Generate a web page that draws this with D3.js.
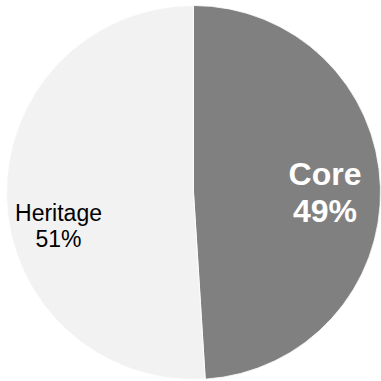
<!DOCTYPE html>
<html>
<head>
<meta charset="utf-8">
<script src="https://cdn.jsdelivr.net/npm/d3@7"></script>
<style>
  html, body { margin: 0; padding: 0; background: #ffffff; }
  svg { display: block; }
</style>
</head>
<body>
<svg id="chart" width="381" height="381"></svg>
<script>
// Share of segments
const categories = ["Core", "Heritage"];
const values = [49, 51];
const colors = ["#808080", "#f2f2f2"];

const svg = d3.select("#chart");
const cx = 193.5, cy = 192.5, r = 187;

const pie = d3.pie().sort(null).value(d => d.value);
const arcs = pie(categories.map((c, i) => ({ name: c, value: values[i] })));
const arc = d3.arc().innerRadius(0).outerRadius(r);

const g = svg.append("g").attr("transform", `translate(${cx},${cy})`);

g.selectAll("path")
  .data(arcs)
  .enter().append("path")
  .attr("d", arc)
  .attr("fill", (d, i) => colors[i])
  .attr("stroke", "#ffffff")
  .attr("stroke-width", 0.8);

// Labels
const labelStyle = [
  { x: 325, y1: 185, y2: 222, size: 32, weight: "bold", fill: "#ffffff" },
  { x: 58.5, y1: 221, y2: 247, size: 23, weight: "normal", fill: "#000000" }
];

arcs.forEach((d, i) => {
  const s = labelStyle[i];
  const t = svg.append("text")
    .attr("text-anchor", "middle")
    .attr("font-family", "Liberation Sans, Arial, sans-serif")
    .attr("font-size", s.size)
    .attr("font-weight", s.weight)
    .attr("fill", s.fill);
  t.append("tspan").attr("x", s.x).attr("y", s.y1).text(d.data.name);
  t.append("tspan").attr("x", s.x).attr("y", s.y2).text(d.data.value + "%");
});
</script>
</body>
</html>
